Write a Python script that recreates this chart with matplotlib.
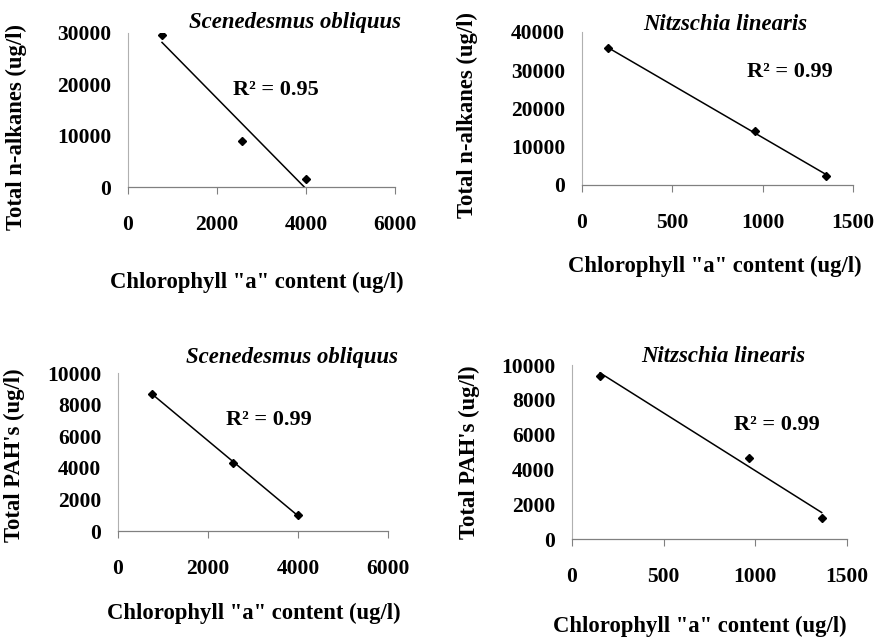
import numpy as np
import matplotlib
matplotlib.use("Agg")
import matplotlib.pyplot as plt

plt.rcParams['font.family'] = ['Liberation Serif', 'DejaVu Serif']
plt.rcParams['font.weight'] = 'bold'

# data
sc_chl = [764, 2562, 4000]
sc_alk = [29700, 8880, 1580]
sc_pah = [8690, 4285, 1010]

ni_chl = [142, 957, 1350]
ni_alk = [35800, 14100, 2430]
ni_chl2 = [153, 967, 1362]
ni_pah = [9385, 4638, 1190]

titles = ["Scenedesmus obliquus", "Nitzschia linearis", "Scenedesmus obliquus", "Nitzschia linearis"]
r2_labels = ["0.95", "0.99", "0.99", "0.99"]
ylabels = ["Total n-alkanes (ug/l)", "Total n-alkanes (ug/l)", "Total PAH's (ug/l)", "Total PAH's (ug/l)"]
xlabel = 'Chlorophyll "a" content (ug/l)'

fig = plt.figure(figsize=(8.75, 6.37), dpi=100)

panels = [
    dict(rect=[0.1463, 0.7064, 0.3051, 0.2418], x=sc_chl, y=sc_alk, xmax=6000, xstep=2000, ymax=30000, ystep=10000,
         title=(0.625, 1.071), r2=(0.554, 0.63), xl=(0.483, -0.55), yl=(-0.378, 0.39)),
    dict(rect=[0.6651, 0.7096, 0.3097, 0.2402], x=ni_chl, y=ni_alk, xmax=1500, xstep=500, ymax=40000, ystep=10000,
         title=(0.528, 1.046), r2=(0.768, 0.739), xl=(0.491, -0.46), yl=(-0.384, 0.458)),
    dict(rect=[0.1349, 0.1664, 0.3086, 0.2480], x=sc_chl, y=sc_pah, xmax=6000, xstep=2000, ymax=10000, ystep=2000,
         title=(0.644, 1.101), r2=(0.559, 0.703), xl=(0.504, -0.455), yl=(-0.344, 0.481)),
    dict(rect=[0.6537, 0.1538, 0.3143, 0.2732], x=ni_chl2, y=ni_pah, xmax=1500, xstep=500, ymax=10000, ystep=2000,
         title=(0.549, 1.046), r2=(0.745, 0.655), xl=(0.465, -0.44), yl=(-0.335, 0.5)),
]

for i, p in enumerate(panels):
    ax = fig.add_axes(p['rect'])
    x = np.array(p['x'], dtype=float)
    y = np.array(p['y'], dtype=float)
    # linear trendline like excel
    k, b = np.polyfit(x, y, 1)
    xs = np.linspace(x.min(), x.max(), 50)
    ax.plot(xs, k * xs + b, color='black', lw=1.1)
    ax.plot(x, y, 'D', color='black', markersize=4)

    ax.set_xlim(0, p['xmax'])
    ax.set_ylim(0, p['ymax'])
    ax.set_xticks(np.arange(0, p['xmax'] + 1, p['xstep']))
    ax.set_yticks(np.arange(0, p['ymax'] + 1, p['ystep']))

    for s in ['top', 'right']:
        ax.spines[s].set_visible(False)
    ax.spines['left'].set_color('#b0b0b0')
    ax.spines['left'].set_linewidth(0.8)
    ax.spines['bottom'].set_color('#808080')
    ax.spines['bottom'].set_linewidth(0.9)

    ax.tick_params(axis='x', direction='out', length=5, width=0.8, color='#808080', pad=15, labelsize=15.5)
    ax.tick_params(axis='y', length=0, pad=12, labelsize=15.5)

    ax.set_xlabel(xlabel, fontsize=16.3, fontweight='bold')
    ax.xaxis.set_label_coords(*p['xl'])
    ax.set_ylabel(ylabels[i], fontsize=16.3, fontweight='bold')
    ax.yaxis.set_label_coords(*p['yl'])

    ax.text(p['title'][0], p['title'][1], titles[i], transform=ax.transAxes, ha='center', va='center',
            fontsize=16.4, fontstyle='italic', fontweight='bold')
    ax.text(p['r2'][0], p['r2'][1], "R² = " + r2_labels[i], transform=ax.transAxes, ha='center', va='center',
            fontsize=16, fontweight='bold')

fig.savefig("out.png", dpi=100)
